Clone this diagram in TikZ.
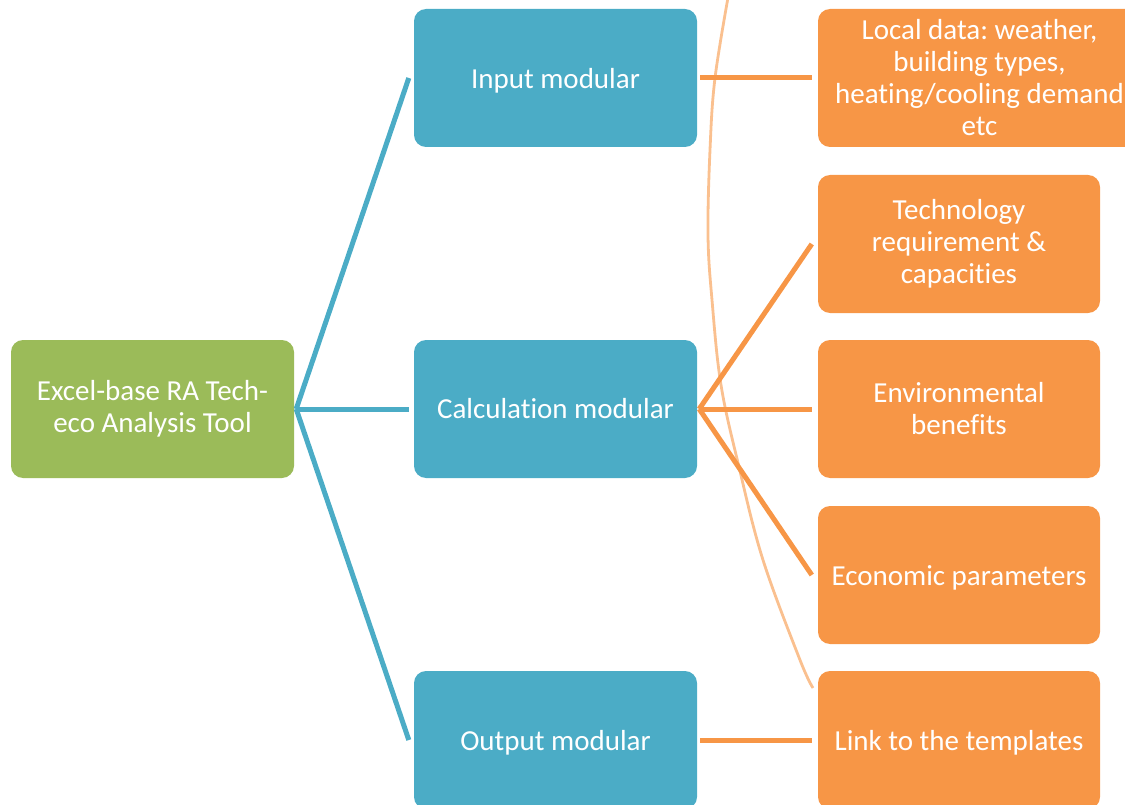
\documentclass[tikz,border=0pt]{standalone}
\usepackage{fontspec}
\setmainfont{Carlito}[Ligatures=NoCommon]
\frenchspacing
\definecolor{rootgreen}{HTML}{9BBB59}
\definecolor{modblue}{HTML}{4BACC6}
\definecolor{leaforange}{HTML}{F79646}
\definecolor{arcorange}{HTML}{FAC08F}
% single-line labels sit a little lower in their boxes
\newcommand{\oneline}[1]{\raisebox{-2.5pt}[\height][\depth]{#1}}
\begin{document}
\begin{tikzpicture}[x=1pt,y=-1pt,
  box/.style={rounded corners=12pt, minimum height=138pt, align=center,
    text=white, inner sep=0pt, font=\fontsize{29}{32}\selectfont},
  rootbox/.style={box, fill=rootgreen, minimum width=283pt},
  modbox/.style={box, fill=modblue, minimum width=283pt},
  leafbox/.style={box, fill=leaforange, minimum width=282pt},
  bluelink/.style={draw=modblue, line width=5pt},
  orangelink/.style={draw=leaforange, line width=5pt},
]
\useasboundingbox (0,0) rectangle (1125,805);
\clip (0,0) rectangle (1125,805);

% root
\node[rootbox] (root) at (152.5,409) {Excel-base RA Tech-\\eco Analysis Tool};

% modules
\node[modbox] (input) at (555.5,78)  {\oneline{Input modular}};
\node[modbox] (calc)  at (555.5,409) {Calculation modular};
\node[modbox] (output) at (555.5,740) {\oneline{Output modular}};

% leaves
\node[leafbox, minimum width=323pt] (local) at (979.5,78)
  {Local data: weather,\\building types,\\heating/cooling demand\\etc};
\node[leafbox] (tech) at (959,244) {Technology\\requirement \&\\capacities};
\node[leafbox] (env)  at (959,409) {Environmental\\benefits};
\node[leafbox] (econ) at (959,575) {\oneline{Economic parameters}};
\node[leafbox] (link) at (959,740) {\oneline{Link to the templates}};

% thin decorative arc behind the leaf column
\draw[arcorange, line width=2.8pt] plot[smooth, tension=0.6] coordinates
  {(729,-8) (715,78) (710,150) (708,235) (712,300) (721,385) (739,467)
   (763,560) (800,660) (813,688)};

% root to modules
\coordinate (rootout) at ([xshift=2pt]root.east);
\draw[bluelink] (rootout) -- ([xshift=-5pt]input.west);
\draw[bluelink] (rootout) -- ([xshift=-5pt]calc.west);
\draw[bluelink] (rootout) -- ([xshift=-5pt]output.west);

% modules to leaves
\draw[orangelink] ([xshift=3pt]input.east) -- ([xshift=-6pt]local.west);
\coordinate (calcout) at ([xshift=2pt]calc.east);
\draw[orangelink] (calcout) -- ([xshift=-6pt]tech.west);
\draw[orangelink] (calcout) -- ([xshift=-6pt]env.west);
\draw[orangelink] (calcout) -- ([xshift=-6pt]econ.west);
\draw[orangelink] ([xshift=3pt]output.east) -- ([xshift=-6pt]link.west);
\end{tikzpicture}
\end{document}
